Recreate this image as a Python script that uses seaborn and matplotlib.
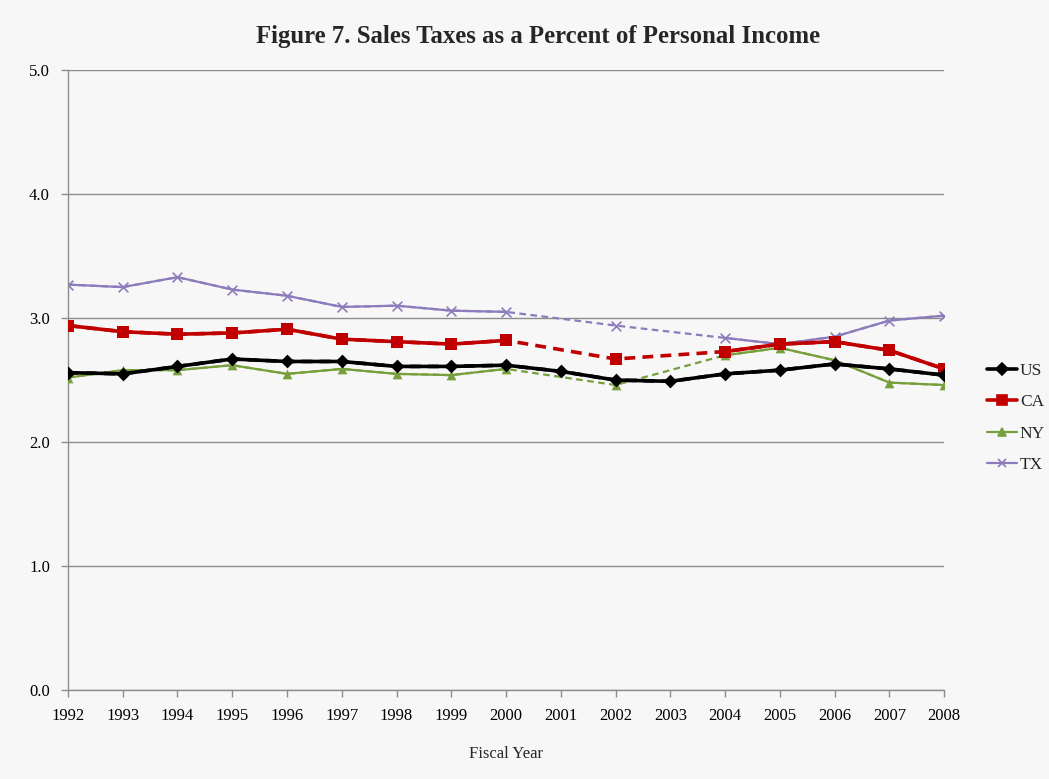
import numpy as np
import pandas as pd
import matplotlib
matplotlib.use("Agg")
import matplotlib.pyplot as plt
import seaborn as sns

years = list(range(1992, 2009))
us = [2.56, 2.55, 2.61, 2.67, 2.65, 2.65, 2.61, 2.61, 2.62, 2.57, 2.50, 2.49, 2.55, 2.58, 2.63, 2.59, 2.54]
ca = [2.94, 2.89, 2.87, 2.88, 2.91, 2.83, 2.81, 2.79, 2.82, np.nan, 2.67, np.nan, 2.73, 2.79, 2.81, 2.74, 2.59]
ny = [2.52, 2.58, 2.58, 2.62, 2.55, 2.59, 2.55, 2.54, 2.59, np.nan, 2.46, np.nan, 2.70, 2.76, 2.66, 2.48, 2.46]
tx = [3.27, 3.25, 3.33, 3.23, 3.18, 3.09, 3.10, 3.06, 3.05, np.nan, 2.94, np.nan, 2.84, 2.79, 2.85, 2.98, 3.02]

series = {"US": us, "CA": ca, "NY": ny, "TX": tx}
styles = {
    "US": dict(color="#000000", marker="D", ms=7, lw=2.6, z=5),
    "CA": dict(color="#c00000", marker="s", ms=9, lw=2.6, z=4),
    "NY": dict(color="#77a03c", marker="^", ms=7, lw=1.6, z=3),
    "TX": dict(color="#8c7cbc", marker="x", ms=7, lw=1.6, z=2),
}

sns.set_theme(style="white")
plt.rcParams["font.family"] = ["Liberation Serif", "DejaVu Serif"]

fig = plt.figure(figsize=(10.49, 7.79), dpi=100, facecolor="#f7f7f7")
ax = fig.add_axes([0.0648, 0.1142, 0.8352, 0.7958])
ax.set_facecolor("#f7f7f7")

for name, vals in series.items():
    st = styles[name]
    df = pd.DataFrame({"year": years, "val": vals})
    full = df.dropna()
    # dashed connection across gaps
    sns.lineplot(data=full, x="year", y="val", ax=ax, color=st["color"], lw=st["lw"],
                 linestyle=(0, (3, 2)), sort=False, estimator=None, zorder=st["z"], legend=False)
    # solid contiguous runs
    df["run"] = df["val"].isna().cumsum()
    for _, run in df.dropna().groupby("run"):
        sns.lineplot(data=run, x="year", y="val", ax=ax, color=st["color"], lw=st["lw"],
                     sort=False, estimator=None, zorder=st["z"], legend=False)
    sns.scatterplot(data=full, x="year", y="val", ax=ax, color=st["color"], marker=st["marker"],
                    s=st["ms"] ** 2, linewidth=1.2 if st["marker"] == "x" else 0,
                    edgecolor=st["color"] if st["marker"] != "x" else None,
                    zorder=st["z"] + 0.5, legend=False)
    ax.plot([], [], color=st["color"], lw=st["lw"], marker=st["marker"],
            ms=st["ms"] * 0.85, label=name, mew=1.2)

ax.set_xlim(1992, 2008)
ax.set_ylim(0, 5)
ax.set_xticks(years)
ax.set_xticklabels([str(y) for y in years], fontsize=12)
ax.set_yticks([0, 1, 2, 3, 4, 5])
ax.set_yticklabels(["0.0", "1.0", "2.0", "3.0", "4.0", "5.0"], fontsize=12)
ax.yaxis.grid(True, color="#8c8c8c", lw=1)
ax.xaxis.grid(False)
ax.set_axisbelow(True)
for s in ["top", "right"]:
    ax.spines[s].set_visible(False)
for s in ["left", "bottom"]:
    ax.spines[s].set_color("#8c8c8c")
    ax.spines[s].set_linewidth(1)
ax.tick_params(axis="both", which="major", direction="out", length=5, width=1,
               color="#8c8c8c", labelcolor="black", pad=8, bottom=True, left=True)
ax.set_xlabel("Fiscal Year", fontsize=12, labelpad=16)
ax.set_ylabel("")

fig.suptitle("Figure 7. Sales Taxes as a Percent of Personal Income", fontsize=17.8,
             fontweight="bold", y=0.968, x=0.513)

leg = ax.legend(loc="center left", bbox_to_anchor=(1.041, 0.439), frameon=False,
                borderaxespad=0, fontsize=12.5, handlelength=1.75, handletextpad=0.15,
                labelspacing=0.87)

fig.savefig("out.png", dpi=100, facecolor=fig.get_facecolor())
